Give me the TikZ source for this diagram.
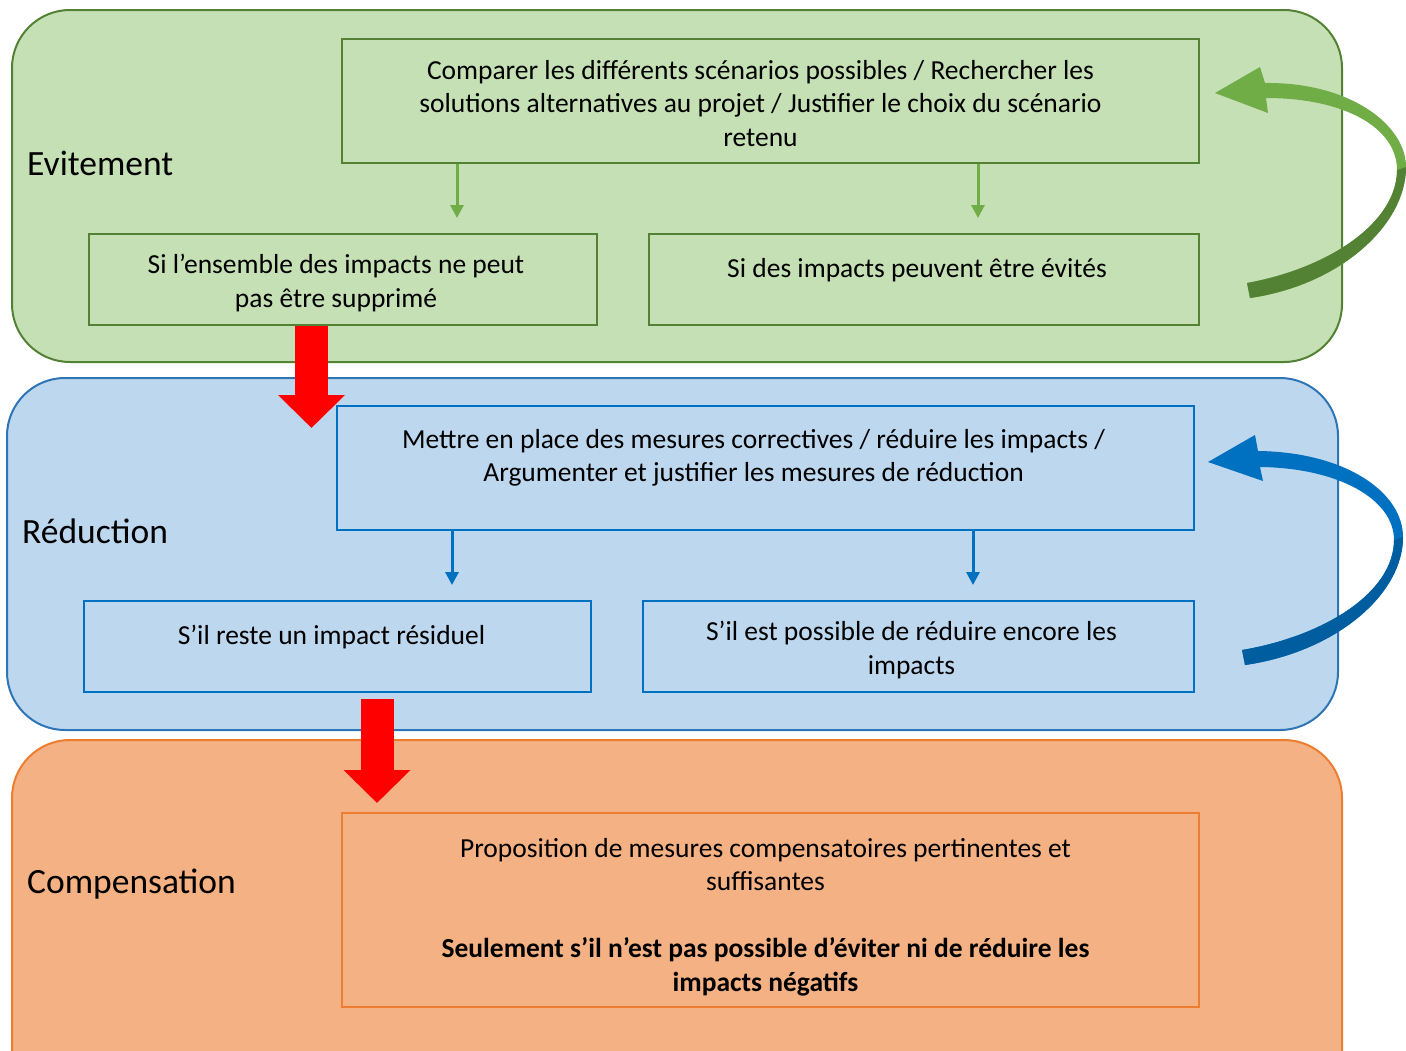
\documentclass[tikz,border=0pt]{standalone}
\usepackage{fontspec}
\setmainfont{Carlito}
\definecolor{evfill}{HTML}{C5E0B4}
\definecolor{evline}{HTML}{548235}
\definecolor{evarrow}{HTML}{70AD47}
\definecolor{rdfill}{HTML}{BDD7EE}
\definecolor{rdpanel}{HTML}{2E75B6}
\definecolor{rdline}{HTML}{0070C0}
\definecolor{rddark}{HTML}{005DA0}
\definecolor{cpfill}{HTML}{F4B183}
\definecolor{cpline}{HTML}{ED7D31}
\definecolor{stopred}{HTML}{FF0000}
\usetikzlibrary{arrows.meta,positioning}

\tikzset{
  panel/.style={line width=2pt, rounded corners=58pt},
  stepbox/.style={draw, line width=2pt, inner sep=0pt, anchor=north west},
  boxtxt/.style={font=\fontsize{27.5}{33.5}\selectfont, align=center, inner sep=0pt,
    execute at begin node=\strut},
  phase/.style={font=\fontsize{35.5}{40}\selectfont, anchor=base west, inner sep=0pt},
  smallarr/.style={line width=3pt, -{Triangle[width=13pt,length=13pt]}},
  redarr/.style={draw=stopred, line width=33pt, -{Triangle[width=65pt,length=33pt]}},
}

\begin{document}
\begin{tikzpicture}[x=1pt, y=-1pt]
  \clip (0,0) rectangle (1406,1050);
  % Phase panels
  \draw[panel, fill=evfill, draw=evline] (12,10) rectangle (1342,362);
  \draw[panel, fill=rdfill, draw=rdpanel] (7,378) rectangle (1338,730);
  \draw[panel, fill=cpfill, draw=cpline] (12,740) rectangle (1342,1120);
  \node[phase] (evlabel) at (27,175) {Evitement};
  \node[phase] (rdlabel) at (22,543) {Réduction};
  \node[phase] (cplabel) at (27,893) {Compensation};

  % Evitement boxes
  \node[stepbox, draw=evline, minimum width=857pt, minimum height=124pt] (evtop) at (341,38) {};
  \node[stepbox, draw=evline, minimum width=508pt, minimum height=91pt] (evleft) at (88,233) {};
  \node[stepbox, draw=evline, minimum width=550pt, minimum height=91pt] (evright) at (648,233) {};
  \node[boxtxt, below=22pt of evtop.north, xshift=-10pt] (evtoptxt)
    {Comparer les différents scénarios possibles / Rechercher les\\
     solutions alternatives au projet / Justifier le choix du scénario\\ retenu};
  \node[boxtxt, below=21pt of evleft.north, xshift=-7pt] (evlefttxt)
    {Si l’ensemble des impacts ne peut\\ pas être supprimé};
  \node[boxtxt, below=21pt of evright.north, xshift=-7pt] (evrighttxt)
    {Si des impacts peuvent être évités};
  \coordinate (ga1) at (457,218);
  \coordinate (ga2) at (978,218);
  \draw[smallarr, evarrow] (ga1 |- evtop.south) -- (ga1);
  \draw[smallarr, evarrow] (ga2 |- evtop.south) -- (ga2);

  % Reduction boxes
  \node[stepbox, draw=rdline, minimum width=857pt, minimum height=124pt] (rdtop) at (336,405) {};
  \node[stepbox, draw=rdline, minimum width=507pt, minimum height=91pt] (rdleft) at (83,600) {};
  \node[stepbox, draw=rdline, minimum width=551pt, minimum height=91pt] (rdright) at (642,600) {};
  \node[boxtxt, below=24pt of rdtop.north, xshift=-12pt] (rdtoptxt)
    {Mettre en place des mesures correctives / réduire les impacts /\\
     Argumenter et justifier les mesures de réduction};
  \node[boxtxt, below=21pt of rdleft.north, xshift=-6pt] (rdlefttxt)
    {S’il reste un impact résiduel};
  \node[boxtxt, below=21pt of rdright.north, xshift=-7pt] (rdrighttxt)
    {S’il est possible de réduire encore les\\ impacts};
  \coordinate (ba1) at (452,585);
  \coordinate (ba2) at (973,585);
  \draw[smallarr, rdline] (ba1 |- rdtop.south) -- (ba1);
  \draw[smallarr, rdline] (ba2 |- rdtop.south) -- (ba2);

  % Compensation box
  \node[stepbox, draw=cpline, minimum width=857pt, minimum height=194pt] (cptop) at (341,812) {};
  \node[boxtxt, below=26pt of cptop.north, xshift=-5pt] (cptoptxt)
    {Proposition de mesures compensatoires pertinentes et\\ suffisantes\\[33.5pt]
     \textbf{Seulement s’il n’est pas possible d’éviter ni de réduire les}\\
     \textbf{impacts négatifs}};

  % Loop arrows
  \fill[evarrow] (1215,93) -- (1260,67) -- (1265,83)
    .. controls (1350,82) and (1406,125) .. (1406,167)
    .. controls (1406,225) and (1340,285) .. (1250,298) -- (1247,283)
    .. controls (1330,268) and (1397,222) .. (1397,170)
    .. controls (1397,128) and (1345,98) .. (1266,98) -- (1268,113) -- cycle;
  \fill[evline] (1406,167) .. controls (1406,225) and (1340,285) .. (1250,298) -- (1247,283)
    .. controls (1330,268) and (1397,222) .. (1397,170) -- cycle;
  \fill[rdline] (1208,462) -- (1255,435) -- (1258,451)
    .. controls (1345,452) and (1403,492) .. (1403,537)
    .. controls (1403,595) and (1335,652) .. (1245,665) -- (1242,650)
    .. controls (1325,636) and (1394,592) .. (1394,540)
    .. controls (1394,500) and (1340,468) .. (1260,467) -- (1263,481) -- cycle;
  \fill[rddark] (1403,537) .. controls (1403,595) and (1335,652) .. (1245,665) -- (1242,650)
    .. controls (1325,636) and (1394,592) .. (1394,540) -- cycle;

  % Red arrows between phases
  \coordinate (rt1) at (311.5,428);
  \coordinate (rt2) at (377,803);
  \draw[redarr] (evleft.south -| rt1) -- (rt1);
  \draw[redarr] ([yshift=-6pt]rdleft.south -| rt2) -- (rt2);
\end{tikzpicture}
\end{document}
